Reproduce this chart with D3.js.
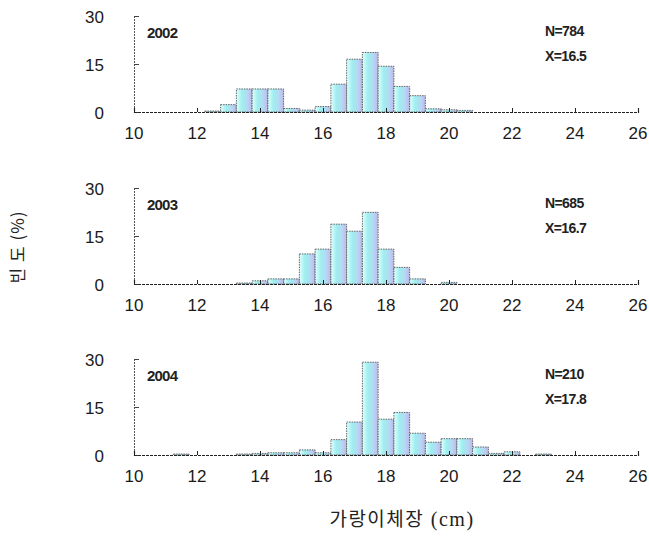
<!DOCTYPE html>
<html><head><meta charset="utf-8">
<script src="https://cdn.jsdelivr.net/npm/d3@7"></script>
<style>
html,body{margin:0;padding:0;background:#fff;}
svg{display:block;}
</style>
</head><body>
<svg id="chart" width="649" height="537"></svg>
<script>
// ---- data ----
const years = ["2002", "2003", "2004"];
const nLabels = ["N=784", "N=685", "N=210"];
const meanLabels = ["X=16.5", "X=16.7", "X=17.8"];
const lengthBins = [11.5, 12, 12.5, 13, 13.5, 14, 14.5, 15, 15.5, 16, 16.5, 17, 17.5, 18, 18.5, 19, 19.5, 20, 20.5, 21, 21.5, 22, 22.5, 23];
const freq2002 = [0, 0, 0.3, 2.3, 7.2, 7.2, 7.2, 1.1, 0.6, 1.7, 8.7, 16.5, 18.6, 14.3, 8.0, 5.1, 1.0, 0.7, 0.5, 0, 0, 0, 0, 0];
const freq2003 = [0, 0, 0, 0, 0.3, 1.0, 1.6, 1.6, 9.4, 10.9, 18.7, 16.5, 22.4, 10.9, 5.2, 1.6, 0, 0.5, 0, 0, 0, 0, 0, 0];
const freq2004 = [0.3, 0, 0, 0, 0.3, 0.5, 0.7, 0.7, 1.6, 0.7, 4.8, 10.3, 29.0, 11.2, 13.3, 6.8, 4.0, 5.1, 5.1, 2.5, 0.5, 1.0, 0, 0.3];
const seriesList = [freq2002, freq2003, freq2004];
const xTicks = [10, 12, 14, 16, 18, 20, 22, 24, 26];
const yTicks = [0, 15, 30];
const xTitle = "가랑이체장";
const xUnit = " (cm)";
const yTitle = "빈 도 (%)";

// ---- layout ----
const svg = d3.select("#chart");
const left = 134, right = 638;
const panelTops = [16, 188, 359];
const panelH = 96;
const binW = 0.5;

const x = d3.scaleLinear().domain([10, 26]).range([left, right]);

const defs = svg.append("defs");
const grad = defs.append("linearGradient").attr("id", "barFill")
  .attr("x1", "0%").attr("x2", "100%").attr("y1", "0%").attr("y2", "0%");
grad.append("stop").attr("offset", "0%").attr("stop-color", "#e0ffff");
grad.append("stop").attr("offset", "35%").attr("stop-color", "#9eefef");
grad.append("stop").attr("offset", "70%").attr("stop-color", "#b6d8f4");
grad.append("stop").attr("offset", "100%").attr("stop-color", "#bdb8ea");

const numFont = "'Liberation Sans', Arial, sans-serif";

panelTops.forEach((top, i) => {
  const y = d3.scaleLinear().domain([0, 30]).range([top + panelH, top]);
  const g = svg.append("g");
  const data = lengthBins.map((b, k) => ({ b, v: seriesList[i][k] })).filter(d => d.v > 0);

  // bars
  g.selectAll("rect.bar").data(data).enter().append("rect")
    .attr("class", "bar")
    .attr("x", d => x(d.b - binW / 2))
    .attr("width", d => x(d.b + binW / 2) - x(d.b - binW / 2))
    .attr("y", d => y(d.v))
    .attr("height", d => y(0) - y(d.v))
    .attr("fill", "url(#barFill)")
    .attr("stroke", "#555")
    .attr("stroke-width", 0.9)
    .attr("stroke-dasharray", "1.5,1");

  // y axis
  const yAxis = d3.axisRight(y).tickValues(yTicks).tickSize(5).tickFormat("");
  const ya = g.append("g").attr("transform", `translate(${left},0)`).call(yAxis);
  ya.select(".domain").attr("stroke", "#555").attr("stroke-dasharray", "2,1");
  ya.selectAll(".tick line").attr("stroke", "#444");
  g.selectAll("text.ylab").data(yTicks).enter().append("text")
    .attr("class", "ylab")
    .attr("x", 104).attr("y", d => y(d) + 3)
    .attr("text-anchor", "end").attr("dominant-baseline", "middle")
    .attr("font-family", numFont).attr("font-size", 17).attr("fill", "#1a1a1a")
    .text(d => d);

  // x axis
  const xAxis = d3.axisTop(x).tickValues(xTicks).tickSize(4).tickFormat("");
  const xa = g.append("g").attr("transform", `translate(0,${y(0)})`).call(xAxis);
  xa.select(".domain").attr("stroke", "#222").attr("stroke-dasharray", "3,1").attr("stroke-width", 1.2);
  xa.selectAll(".tick line").attr("stroke", "#222");
  g.selectAll("text.xlab").data(xTicks).enter().append("text")
    .attr("class", "xlab")
    .attr("x", d => x(d)).attr("y", y(0) + 27)
    .attr("text-anchor", "middle")
    .attr("font-family", numFont).attr("font-size", 17).attr("fill", "#1a1a1a")
    .text(d => d);

  // annotations
  g.append("text").attr("x", 147).attr("y", top + 22)
    .attr("font-family", numFont).attr("font-size", 15).attr("font-weight", "bold")
    .attr("letter-spacing", -0.8).attr("fill", "#222").text(years[i]);
  g.append("text").attr("x", 545).attr("y", top + 20)
    .attr("font-family", numFont).attr("font-size", 14).attr("font-weight", "bold")
    .attr("letter-spacing", -0.6).attr("fill", "#222").text(nLabels[i]);
  g.append("text").attr("x", 545).attr("y", top + 45)
    .attr("font-family", numFont).attr("font-size", 14).attr("font-weight", "bold")
    .attr("letter-spacing", -0.6).attr("fill", "#222").text(meanLabels[i]);
});

// axis titles
const xt = svg.append("text").attr("x", 402).attr("y", 526)
  .attr("text-anchor", "middle").attr("fill", "#222")
  .attr("font-family", "'Noto Sans CJK KR', sans-serif").attr("font-size", 19)
  .attr("letter-spacing", 1.5);
xt.append("tspan").text(xTitle);
xt.append("tspan").attr("font-family", "'Liberation Serif', serif").attr("font-size", 20).text(xUnit);

svg.append("text")
  .attr("transform", "translate(24,247) rotate(-90)")
  .attr("text-anchor", "middle").attr("fill", "#222")
  .attr("font-family", "'Noto Sans CJK KR', sans-serif").attr("font-size", 17)
  .attr("letter-spacing", 1)
  .text(yTitle);
</script>
</body></html>
